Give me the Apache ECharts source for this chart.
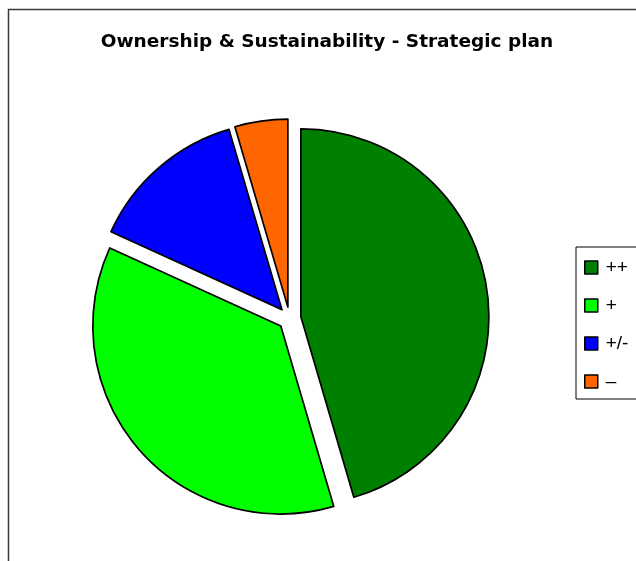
<!DOCTYPE html>
<html>
<head>
<meta charset="utf-8">
<script src="https://cdn.jsdelivr.net/npm/echarts@6/dist/echarts.min.js"></script>
<style>
  html, body { margin: 0; padding: 0; background: #fff; }
  #chart { width: 636px; height: 561px; }
</style>
</head>
<body>
<div id="chart"></div>
<script>
// Rating categories and number of answers per rating
const categories = ['++', '+', '+/-', '–'];
const counts = [10, 8, 3, 1];
const sliceColors = ['#008000', '#00FF00', '#0000FF', '#FF6600'];
const chartTitle = 'Ownership & Sustainability - Strategic plan';

const chart = echarts.init(document.getElementById('chart'), null, { renderer: 'canvas' });

const pieData = categories.map((name, i) => ({
  name: name,
  value: counts[i],
  selected: true,
  itemStyle: { color: sliceColors[i] }
}));

chart.setOption({
  animation: false,
  backgroundColor: '#ffffff',
  title: {
    text: chartTitle,
    left: 327,
    textAlign: 'center',
    top: 33,
    padding: 0,
    textStyle: {
      fontFamily: 'DejaVu Sans, Liberation Sans, sans-serif',
      fontSize: 18.5,
      fontWeight: 'bold',
      color: '#000'
    }
  },
  legend: {
    orient: 'vertical',
    left: 576,
    top: 247,
    padding: [11, 40, 8, 8],
    itemWidth: 13,
    itemHeight: 13,
    itemGap: 19,
    icon: 'rect',
    selectedMode: false,
    borderColor: '#000',
    borderWidth: 1,
    borderRadius: 0,
    backgroundColor: '#fff',
    textStyle: {
      fontFamily: 'Liberation Sans, Arial, sans-serif',
      fontSize: 19,
      lineHeight: 19,
      color: '#000',
      padding: [0, 0, 0, 3]
    },
    itemStyle: { borderColor: '#000', borderWidth: 1.5 },
    data: categories
  },
  graphic: [{
    type: 'rect',
    silent: true,
    shape: { x: 8.5, y: 9.5, width: 700, height: 600 },
    style: { fill: 'none', stroke: '#3a3a3a', lineWidth: 1.5 },
    z: -10
  }],
  series: [{
    type: 'pie',
    center: [289.5, 318.5],
    radius: 188,
    startAngle: 90,
    clockwise: true,
    selectedMode: 'multiple',
    selectedOffset: 11.5,
    avoidLabelOverlap: false,
    label: { show: false },
    labelLine: { show: false },
    emphasis: { disabled: true },
    itemStyle: { borderColor: '#000', borderWidth: 1.7 },
    select: { itemStyle: { borderColor: '#000', borderWidth: 1.7 } },
    data: pieData
  }]
});
</script>
</body>
</html>
